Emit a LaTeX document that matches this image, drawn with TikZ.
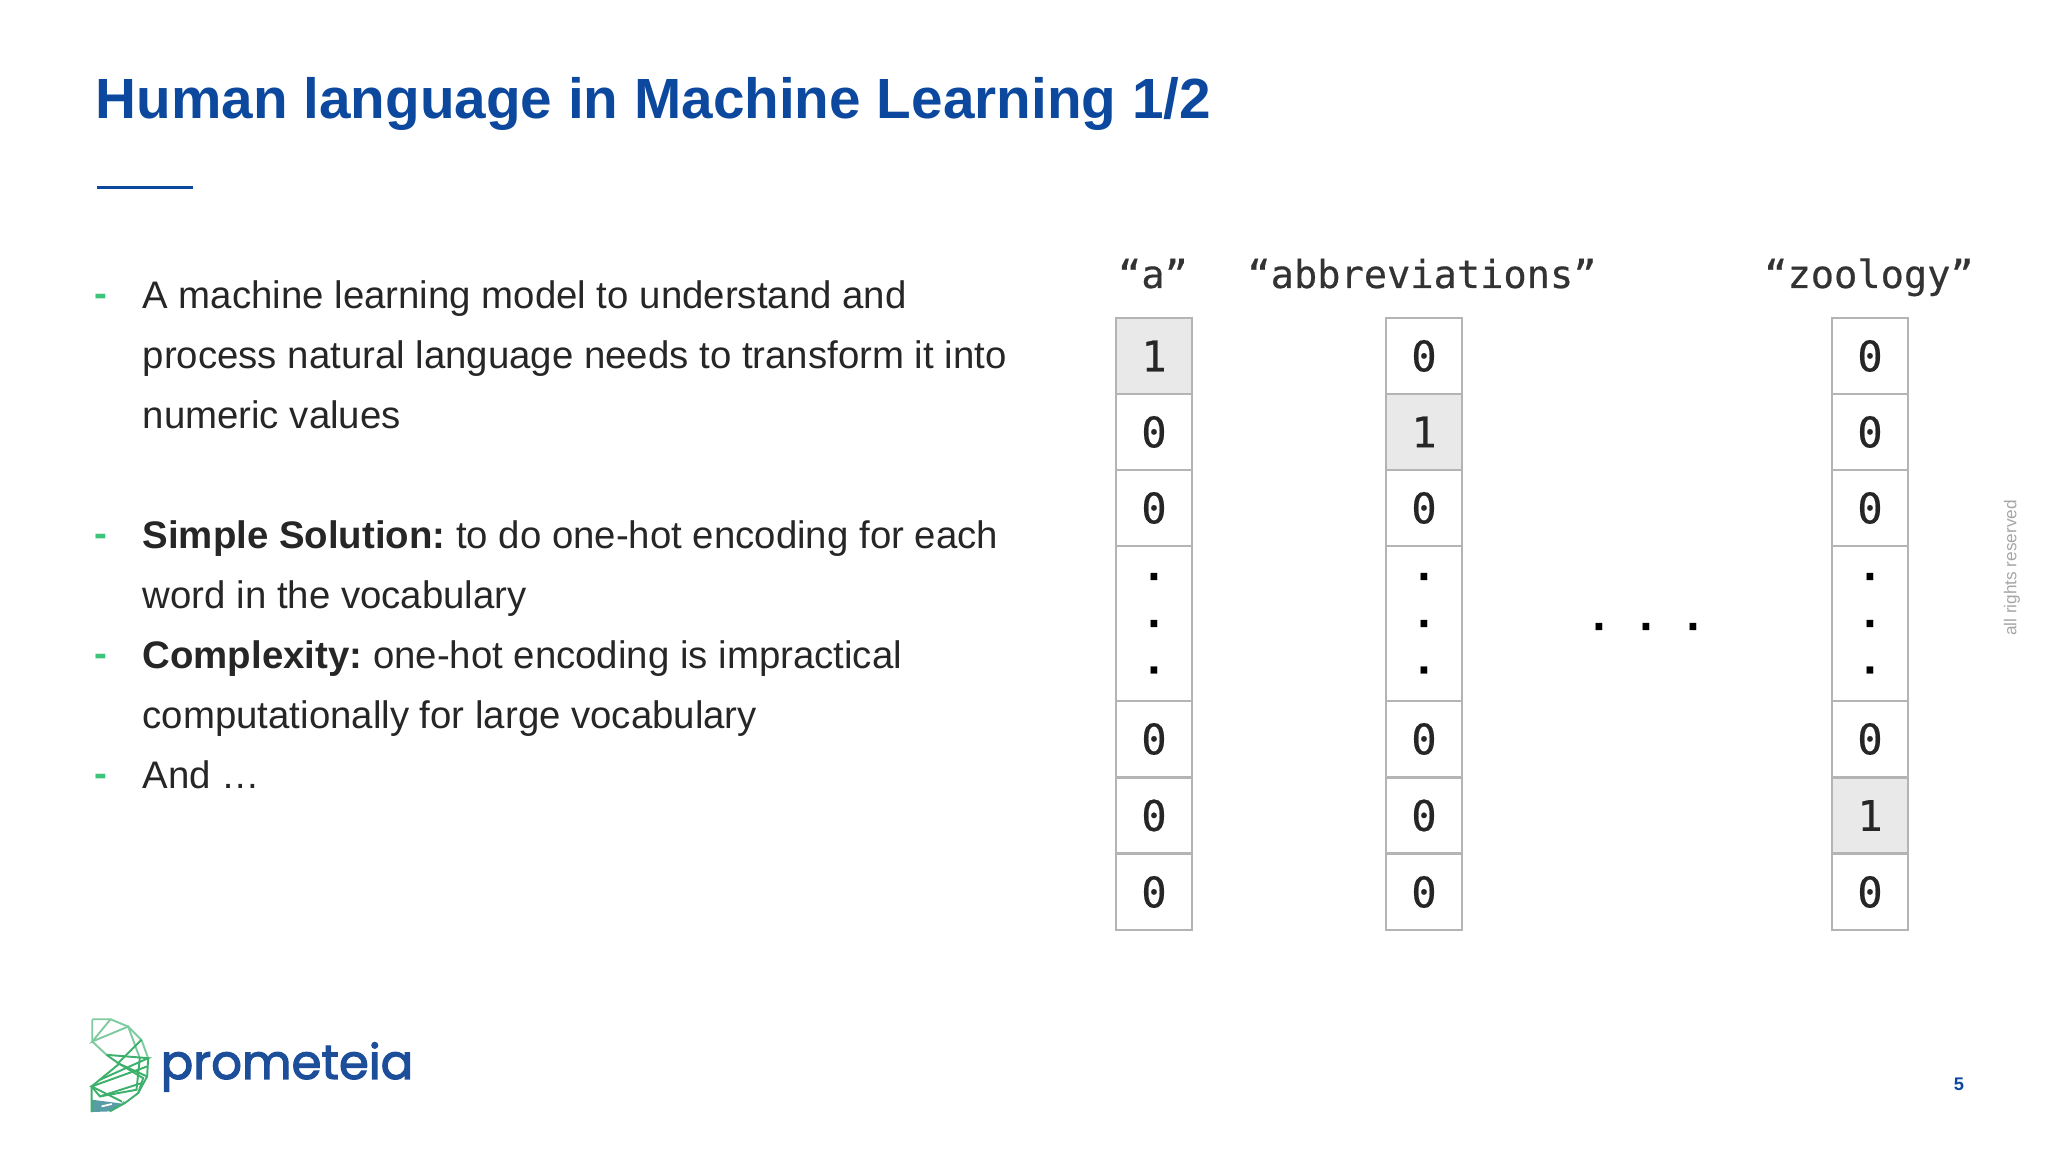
\documentclass[tikz,border=0pt]{standalone}
\usepackage{fontspec}
\setmainfont{Liberation Sans}
\newfontfamily\codefont[FakeBold=0.5]{DejaVu Sans Mono}
\newfontfamily\logofont[FakeBold=2.4]{Poppins}
\frenchspacing
\definecolor{titleblue}{HTML}{0B489E}
\definecolor{logoblue}{HTML}{1C4E9A}
\definecolor{bulletgreen}{HTML}{3CC47C}
\definecolor{bodygray}{HTML}{262626}
\definecolor{cellline}{HTML}{B4B4B4}
\definecolor{cellfill}{HTML}{E9E9EA}
\definecolor{meshtop}{HTML}{7FCB9F}
\definecolor{meshmid}{HTML}{3DB06C}
\definecolor{meshlow}{HTML}{2E8390}
\tikzset{
	bodytext/.style={anchor=north west,align=left,inner sep=0pt,text=bodygray,font=\fontsize{10.92}{17.07}\selectfont},
	bulletmark/.style={anchor=base west,inner sep=0pt,text=bulletgreen,font=\bfseries\fontsize{10.92}{17.07}\selectfont},
	wordlabel/.style={anchor=base,inner sep=0pt,text=black!80,font=\codefont\fontsize{11}{13}\selectfont},
	cellmark/.style={anchor=base,inner sep=0pt,text=black,font=\codefont\bfseries\fontsize{11}{13}\selectfont}
}
\begin{document}
\begin{tikzpicture}
		\useasboundingbox (0,0) rectangle (20.48,11.52);

		\node[anchor=base west,inner sep=0pt,text=titleblue,font=\bfseries\fontsize{16.13}{20}\selectfont] (title) at (0.95,10.33) {Human language in Machine Learning 1/2};
		\coordinate (rule-l) at (0.97,9.645);
		\coordinate (rule-r) at (1.93,9.645);
		\draw[titleblue,line width=1pt] (rule-l) -- (rule-r);

		\node[bulletmark] (b-1) at (0.94,8.45) {-};
		\node[bodytext] (t-1) at (1.42,8.715) {A machine learning model to understand and\\process natural language needs to transform it into\\numeric values};
		\node[bulletmark] (b-2) at (0.94,6.05) {-};
		\node[bodytext] (t-2) at (1.42,6.315) {\textbf{Simple Solution:} to do one-hot encoding for each\\word in the vocabulary};
		\node[bulletmark] (b-3) at (0.94,4.85) {-};
		\node[bodytext] (t-3) at (1.42,5.115) {\textbf{Complexity:} one-hot encoding is impractical\\computationally for large vocabulary};
		\node[bulletmark] (b-4) at (0.94,3.65) {-};
		\node[bodytext] (t-4) at (1.42,3.915) {And \dots};

		\node[wordlabel] (w-a) at (11.53,8.64) {“a”};
		\node[wordlabel] (w-b) at (14.22,8.64) {“abbreviations”};
		\node[wordlabel] (w-z) at (18.69,8.64) {“zoology”};

		\begin{scope}[every node/.style={rectangle,draw=cellline,line width=0.6pt,fill=white,text=black!85,inner sep=0pt,
		              minimum width=0.76cm,minimum height=0.76cm,font=\codefont\fontsize{12}{14}\selectfont}]
		    \node[fill=cellfill] (a-1) at (11.54,7.96) {1};
		    \node (a-2) at (11.54,7.20) {0};
		    \node (a-3) at (11.54,6.44) {0};
		    \node[minimum height=1.55cm] (a-4) at (11.54,5.285) {};
		    \node (a-5) at (11.54,4.13) {0};
		    \node (a-6) at (11.54,3.365) {0};
		    \node (a-7) at (11.54,2.60) {0};
		    \node (b-1c) at (14.24,7.96) {0};
		    \node[fill=cellfill] (b-2c) at (14.24,7.20) {1};
		    \node (b-3c) at (14.24,6.44) {0};
		    \node[minimum height=1.55cm] (b-4c) at (14.24,5.285) {};
		    \node (b-5c) at (14.24,4.13) {0};
		    \node (b-6c) at (14.24,3.365) {0};
		    \node (b-7c) at (14.24,2.60) {0};
		    \node (z-1) at (18.70,7.96) {0};
		    \node (z-2) at (18.70,7.20) {0};
		    \node (z-3) at (18.70,6.44) {0};
		    \node[minimum height=1.55cm] (z-4) at (18.70,5.285) {};
		    \node (z-5) at (18.70,4.13) {0};
		    \node[fill=cellfill] (z-6) at (18.70,3.365) {1};
		    \node (z-7) at (18.70,2.60) {0};
		\end{scope}

		\foreach \px/\name in {11.54/a,14.24/b,18.70/z}{
		    \node[cellmark] (\name-d1) at (\px,5.72) {.};
		    \node[cellmark] (\name-d2) at (\px,5.25) {.};
		    \node[cellmark] (\name-d3) at (\px,4.785) {.};
		}
		\node[cellmark] (gap-1) at (15.99,5.22) {.};
		\node[cellmark] (gap-2) at (16.46,5.22) {.};
		\node[cellmark] (gap-3) at (16.93,5.22) {.};

		\node[rotate=90,inner sep=0pt,text=black!35,font=\fontsize{4.9}{6}\selectfont] (rights) at (20.12,5.84) {all rights reserved};
		\node[inner sep=0pt,text=titleblue,font=\bfseries\fontsize{5.2}{6}\selectfont] (page) at (19.59,0.68) {5};

		\node[anchor=base west,inner sep=0pt,text=logoblue,font=\logofont\fontsize{13.7}{16}\selectfont] (logo) at (1.6,0.73) {prometeia};

		% mesh of the mark, in crop units
		\begin{scope}[shift={(0.6,1.62)},x=0.00333cm,y=-0.00333cm,line width=0.55pt]
		    \fill[meshlow!80] (97,330) -- (190,342) -- (150,365) -- (95,367) -- cycle;
		    \draw[meshtop] (97,88) -- (152,88) -- (205,110) -- (245,150) -- (265,205);
		    \draw[meshtop] (97,88) -- (97,155) -- (140,195);
		    \draw[meshtop] (152,88) -- (97,155) -- (205,110) -- (240,205);
		    \draw[meshmid] (140,195) -- (178,222) -- (95,290) -- (95,367);
		    \draw[meshmid] (265,205) -- (262,260) -- (235,310) -- (195,340) -- (150,365);
		    \draw[meshmid] (245,150) -- (175,220) -- (250,265) -- (235,310);
		    \draw[meshmid] (140,195) -- (265,205) -- (120,270);
		    \draw[meshmid] (178,222) -- (262,260);
		    \draw[meshmid] (262,230) -- (95,290) -- (195,340);
		    \draw[meshmid] (240,205) -- (230,300) -- (120,320) -- (95,290);
		    \draw[meshmid] (120,320) -- (245,280);
		    \draw[white,line width=0.5pt,dash pattern=on 3pt off 3pt] (125,350) -- (190,335);
		\end{scope}
\end{tikzpicture}
\end{document}
